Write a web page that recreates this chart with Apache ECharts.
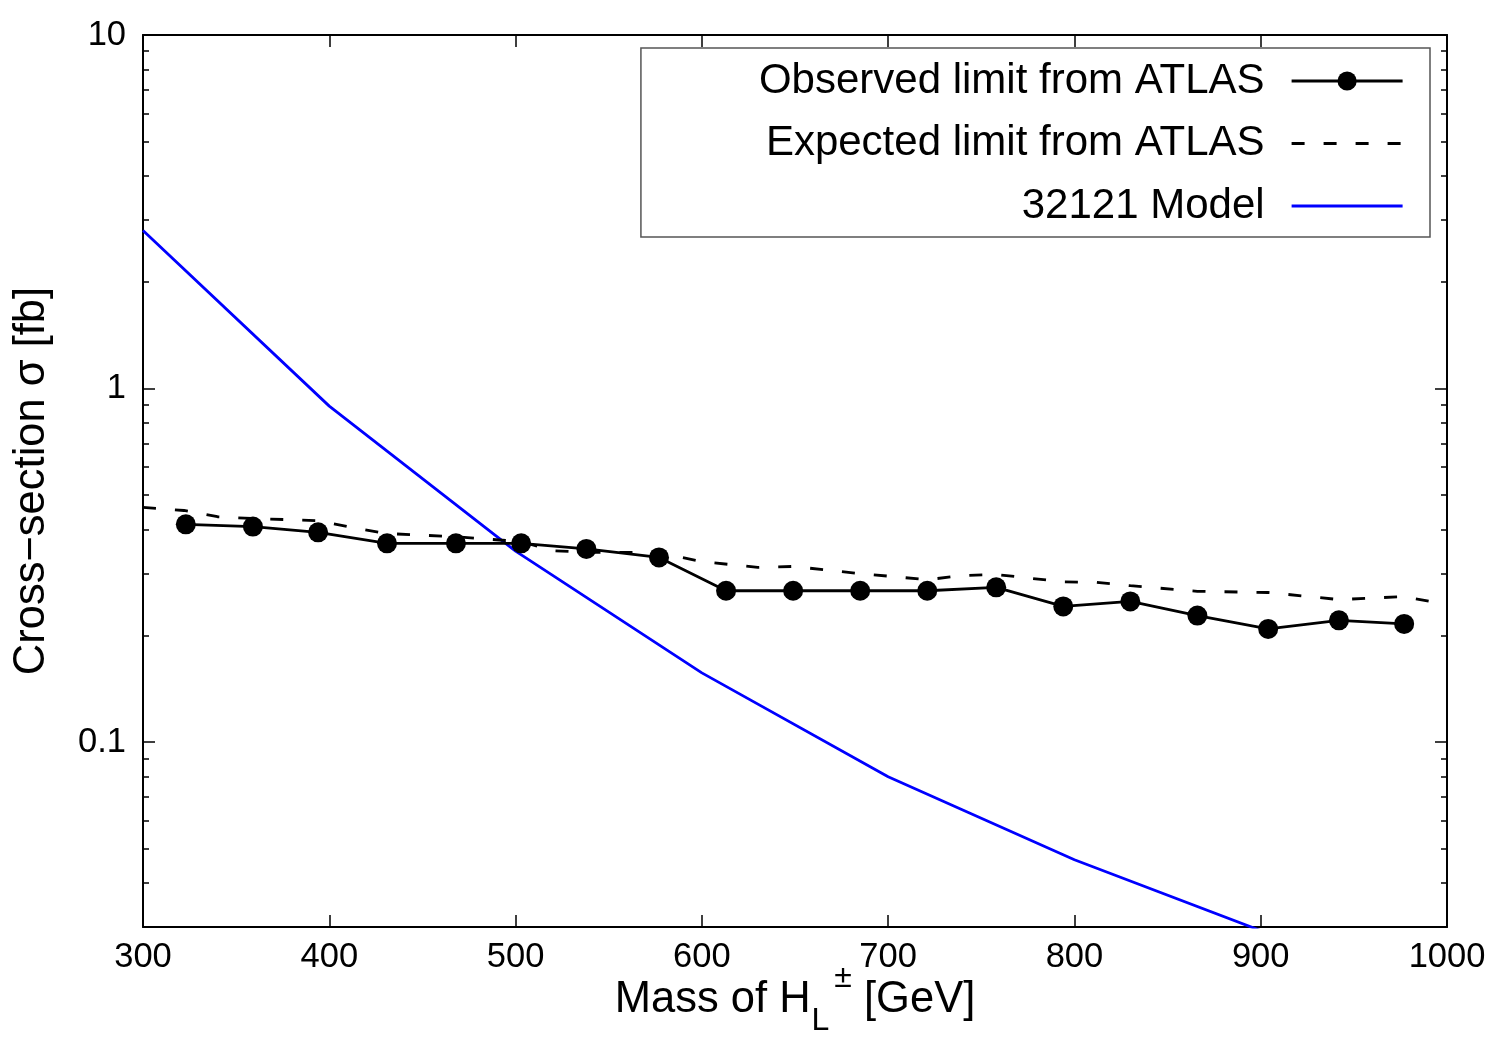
<!DOCTYPE html>
<html><head><meta charset="utf-8">
<script src="https://cdn.jsdelivr.net/npm/echarts@6/dist/echarts.min.js"></script>
<style>html,body{margin:0;padding:0;background:#fff}#c{width:1500px;height:1050px}</style>
</head><body><div id="c"></div>
<script>
// ---- data ----
const obsMass = [323,359,394,431,468,503,538,577,613,649,685,721,758,794,830,866,904,942,977];
const obsXsec = [0.413,0.407,0.392,0.365,0.365,0.365,0.352,0.333,0.268,0.268,0.268,0.268,0.274,0.242,0.250,0.228,0.209,0.221,0.216];
const expMass = [300,322,340,359,394,415,431,468,503,520,538,576,600,630,649,684,721,740,758,794,812,830,866,904,942,977,1000];
const expXsec = [0.461,0.452,0.434,0.429,0.423,0.402,0.389,0.381,0.369,0.348,0.344,0.344,0.324,0.312,0.314,0.300,0.288,0.296,0.298,0.284,0.283,0.277,0.267,0.265,0.253,0.258,0.245];
const modelMass = [300,400,500,600,700,800,900];
const modelXsec = [2.80,0.892,0.347,0.157,0.0798,0.0465,0.0293];
const seriesNames = ['Observed limit from ATLAS','Expected limit from ATLAS','32121 Model'];
const yMajorTicks = [0.1, 1, 10];
const yMajorLabels = ['0.1', '1', '10'];
const yMinorTicks = [0.04,0.05,0.06,0.07,0.08,0.09,0.2,0.3,0.4,0.5,0.6,0.7,0.8,0.9,2,3,4,5,6,7,8,9];
const xMin = 300, xMax = 1000, xStep = 100;
const yMin = 0.03, yMax = 10;

const FF = 'Liberation Sans, Arial, Helvetica, sans-serif';
const pair = (xs, ys) => xs.map((x, i) => [x, ys[i]]);

const chart = echarts.init(document.getElementById('c'), null, {renderer: 'canvas'});

const xBase = (pos, labels) => ({
  type: 'value', min: xMin, max: xMax, interval: xStep, position: pos, gridIndex: 0,
  axisLine: {show: true, onZero: false, lineStyle: {color: '#000', width: 2}},
  axisTick: {show: true, inside: true, length: 12, lineStyle: {color: '#000', width: 1.5}},
  axisLabel: {show: labels, margin: 13, fontSize: 34.5, color: '#000', fontFamily: FF,
    formatter: (v) => String(v)},
  splitLine: {show: false}, minorTick: {show: false}
});

const yBase = (pos, ticks, len, line, labels) => ({
  type: 'log', logBase: 10, min: yMin, max: yMax, position: pos, gridIndex: 0,
  axisLine: {show: line, onZero: false, lineStyle: {color: '#000', width: 2}},
  axisTick: {show: true, inside: true, length: len, customValues: ticks, lineStyle: {color: '#000', width: 1.5}},
  axisLabel: {show: labels, customValues: ticks, margin: 17, fontSize: 34.5, color: '#000', fontFamily: FF,
    formatter: (v) => { const i = yMajorTicks.findIndex(t => Math.abs(t - v) / t < 1e-6); return i >= 0 ? yMajorLabels[i] : ''; }},
  splitLine: {show: false}, minorTick: {show: false}
});

const xName = Object.assign(xBase('bottom', true), {
  name: '{m|Mass of H}{sub|L}{sup|±}{m| [GeV]}',
  nameLocation: 'middle', nameGap: 25, nameMoveOverlap: false,
  nameTextStyle: {
    fontSize: 43.5, color: '#000', fontFamily: FF,
    rich: {
      m: {fontSize: 43.5, color: '#000', fontFamily: FF, lineHeight: 96},
      sub: {fontSize: 32, color: '#000', fontFamily: FF, verticalAlign: 'bottom', padding: [0, 0, 11, 1]},
      sup: {fontSize: 32, color: '#000', fontFamily: FF, verticalAlign: 'top', padding: [10, 0, 0, 5]}
    }
  }
});

const yMain = Object.assign(yBase('left', yMajorTicks, 12, true, true), {
  name: 'Cross\u2212section \u03c3 [fb]', nameLocation: 'middle', nameGap: 89,
  nameTextStyle: {fontSize: 43.5, color: '#000', fontFamily: FF}
});

const hideDot = {color: 'rgba(0,0,0,0)', borderWidth: 0, borderColor: 'rgba(0,0,0,0)'};

chart.setOption({
  animation: false,
  backgroundColor: '#fff',
  grid: {left: 143, right: 53, top: 35, bottom: 123, containLabel: false, outerBoundsMode: 'none'},
  legend: {
    orient: 'vertical', right: 70, top: 48, align: 'right',
    itemWidth: 111, itemHeight: 24, itemGap: 16.5,
    padding: [10, 26, 8, 118],
    borderColor: '#555', borderWidth: 1.5, backgroundColor: '#fff',
    selectedMode: false,
    lineStyle: {width: 2.8},
    textStyle: {fontSize: 42, color: '#000', fontFamily: FF, lineHeight: 46, padding: [0, 22, 0, 0]},
    data: [
      {name: seriesNames[0]},
      {name: seriesNames[1], itemStyle: hideDot},
      {name: seriesNames[2], itemStyle: hideDot}
    ]
  },
  xAxis: [xName, xBase('top', false)],
  yAxis: [
    yMain,
    yBase('right', yMajorTicks, 12, true, false),
    yBase('left', yMinorTicks, 6, false, false),
    yBase('right', yMinorTicks, 6, false, false)
  ],
  series: [
    {
      name: seriesNames[0], type: 'line', xAxisIndex: 0, yAxisIndex: 0,
      data: pair(obsMass, obsXsec),
      symbol: 'circle', symbolSize: 20, showSymbol: true,
      lineStyle: {color: '#000', width: 2.8}, itemStyle: {color: '#000'}, z: 4
    },
    {
      name: seriesNames[1], type: 'line', xAxisIndex: 0, yAxisIndex: 0,
      data: pair(expMass, expXsec),
      symbol: 'none',
      lineStyle: {color: '#000', width: 2.8, type: [13, 19]}, itemStyle: {color: '#000'}, z: 3
    },
    {
      name: seriesNames[2], type: 'line', xAxisIndex: 0, yAxisIndex: 0,
      data: pair(modelMass, modelXsec),
      symbol: 'none', clip: true,
      lineStyle: {color: '#0000ff', width: 2.8}, itemStyle: {color: '#0000ff'}, z: 2
    }
  ]
});
</script></body></html>
